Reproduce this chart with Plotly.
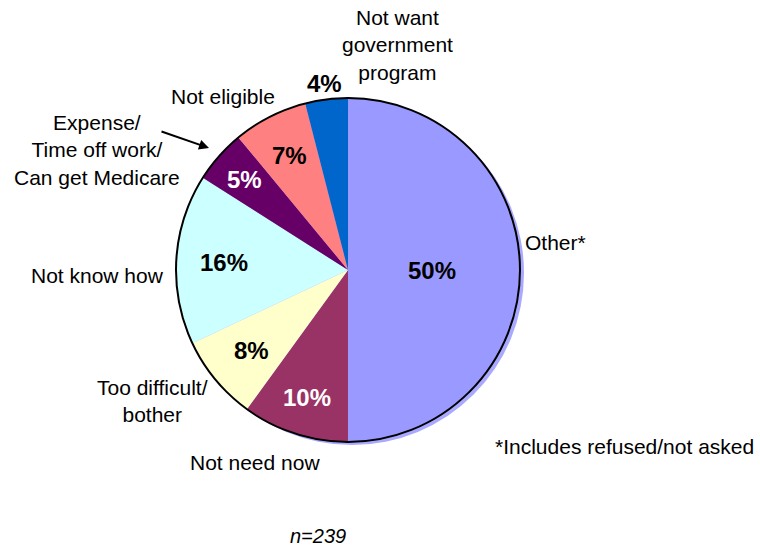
import math
import plotly.graph_objects as go

# DATA -----------------------------------------------------------------------------------------------------------------
labels = ["Other*", "Not need now", "Too difficult/<br>bother", "Not know how",
          "Expense/<br>Time off work/<br>Can get Medicare", "Not eligible",
          "Not want<br>government<br>program"]
values = [50, 10, 8, 16, 5, 7, 4]
colors = ["#9999FF", "#993366", "#FFFFCC", "#CCFFFF", "#660066", "#FF8080", "#0066CC"]
pct_colors = ["black", "white", "black", "black", "white", "black", "black"]

footnote = "*Includes refused/not asked"
sample = "<i>n=239</i>"

# LAYOUT HELPERS -------------------------------------------------------------------------------------------------------
W, H = 760, 548
cx, cy, R = 348, 270, 172


def px(x, y):
    return x / W, 1 - y / H


dom_x = [(cx - R) / W, (cx + R) / W]
dom_y = [1 - (cy + R) / H, 1 - (cy - R) / H]
shadow_x = [(cx - R + 4) / W, (cx + R + 4) / W]
shadow_y = [1 - (cy + R + 3) / H, 1 - (cy - R + 3) / H]

font = "Liberation Sans, Arial, sans-serif"

# shadow, pie, outline
traces = [
    go.Pie(values=[1], marker=dict(colors=["#A9A9FF"], line=dict(width=0)),
           domain=dict(x=shadow_x, y=shadow_y), textinfo="none", hoverinfo="skip",
           showlegend=False, sort=False),
    go.Pie(labels=labels, values=values, marker=dict(colors=colors, line=dict(width=0)),
           domain=dict(x=dom_x, y=dom_y), textinfo="none", sort=False,
           direction="clockwise", rotation=0, showlegend=False),
    go.Pie(values=[1], marker=dict(colors=["rgba(0,0,0,0)"], line=dict(color="black", width=2)),
           domain=dict(x=dom_x, y=dom_y), textinfo="none", hoverinfo="skip",
           showlegend=False, sort=False),
]

# percentage labels placed along each slice's mid angle
radial = [0.49, 0.78, 0.73, 0.72, 0.80, 0.75, 1.09]
annotations = []
total = sum(values)
cum = 0
for v, c, rf in zip(values, pct_colors, radial):
    mid = (cum + v / 2) / total * 2 * math.pi
    cum += v
    x = cx + rf * R * math.sin(mid)
    y = cy - rf * R * math.cos(mid)
    xp, yp = px(x, y)
    annotations.append(dict(x=xp, y=yp, xref="paper", yref="paper", text="<b>%d%%</b>" % v,
                            showarrow=False, xanchor="center", yanchor="middle",
                            font=dict(family=font, size=24, color=c)))

# outer category labels
label_pos = [(523, 243, "left"), (255, 462, "center"), (152, 401, "center"), (97, 275, "center"),
             (97, 150, "center"), (223, 96, "center"), (397, 45, "center")]
for lab, (x, y, anc) in zip(labels, label_pos):
    xp, yp = px(x, y)
    annotations.append(dict(x=xp, y=yp, xref="paper", yref="paper", text=lab, showarrow=False,
                            xanchor=anc, yanchor="middle", align="center",
                            font=dict(family=font, size=21, color="black")))

# arrow to the Expense slice
xp, yp = px(209, 148)
annotations.append(dict(x=xp, y=yp, xref="paper", yref="paper", text="", showarrow=True,
                        ax=-49, ay=-17, arrowhead=2, arrowsize=1, arrowwidth=2, arrowcolor="black"))

xp, yp = px(493, 446)
annotations.append(dict(x=xp, y=yp, xref="paper", yref="paper", text=footnote, showarrow=False,
                        xanchor="left", yanchor="middle", font=dict(family=font, size=21, color="black")))
xp, yp = px(318, 536)
annotations.append(dict(x=xp, y=yp, xref="paper", yref="paper", text=sample, showarrow=False,
                        xanchor="center", yanchor="middle", font=dict(family=font, size=20, color="black")))

fig = go.Figure(traces).update_layout(
    width=W,
    height=H,
    margin=dict(l=0, r=0, t=0, b=0),
    paper_bgcolor="white",
    plot_bgcolor="white",
    annotations=annotations,
)

fig.write_html("out.html", config=dict(displayModeBar=False),
               post_script="document.body.style.margin='0';")
